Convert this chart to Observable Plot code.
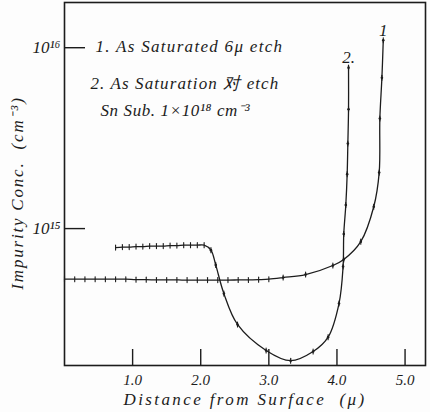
<!DOCTYPE html>
<html>
<head>
<meta charset="utf-8">
<script src="https://cdn.jsdelivr.net/npm/d3@7"></script>
<script src="https://cdn.jsdelivr.net/npm/@observablehq/plot@0.6"></script>
<style>
  html, body { margin: 0; padding: 0; background: #fdfdfd; }
</style>
</head>
<body>
<div id="chart"></div>
<script>
// Curve 1: As saturated, 6 μ etch
const c1Distance = [0.0, 0.15, 0.3, 0.45, 0.6, 0.75, 0.9, 1.05, 1.2, 1.35, 1.5, 1.65, 1.8, 1.95, 2.1, 2.25, 2.4, 2.55, 2.7, 2.85, 3.0, 3.21, 3.54, 3.94, 4.10, 4.35, 4.54, 4.62, 4.63, 4.66, 4.68];
const c1Conc = [5.25e14, 5.25e14, 5.25e14, 5.25e14, 5.25e14, 5.25e14, 5.25e14, 5.22e14, 5.22e14, 5.2e14, 5.2e14, 5.2e14, 5.19e14, 5.19e14, 5.19e14, 5.19e14, 5.19e14, 5.2e14, 5.2e14, 5.22e14, 5.25e14, 5.36e14, 5.57e14, 6.25e14, 6.75e14, 8.47e14, 1.32e15, 2.04e15, 4.06e15, 6.82e15, 1.10e16];
// Curve 2: As saturation, 对 etch
const c2Distance = [0.75, 0.85, 0.95, 1.05, 1.15, 1.25, 1.35, 1.45, 1.55, 1.65, 1.75, 1.85, 1.95, 2.05, 2.15, 2.22, 2.34, 2.54, 2.96, 3.32, 3.65, 3.87, 4.03, 4.09, 4.10, 4.13, 4.15, 4.16, 4.17, 4.17];
const c2Conc = [7.85e14, 7.9e14, 7.9e14, 7.95e14, 7.95e14, 8.0e14, 8.0e14, 8.0e14, 8.05e14, 8.05e14, 8.1e14, 8.1e14, 8.1e14, 8.1e14, 7.6e14, 6.3e14, 4.37e14, 2.95e14, 2.12e14, 1.86e14, 2.09e14, 2.51e14, 3.85e14, 6.17e14, 9.33e14, 1.35e15, 2.0e15, 2.95e15, 4.57e15, 7.76e15];

const xTicks = [1, 2, 3, 4, 5];
const yTicks = [1e15, 1e16];
const sup = {"0":"⁰","1":"¹","2":"²","3":"³","4":"⁴","5":"⁵","6":"⁶","7":"⁷","8":"⁸","9":"⁹"};
const legend1 = "1. As Saturated 6μ etch";
const legend2 = "2. As Saturation 对 etch";
const legend3 = "Sn Sub. 1×10¹⁸ cm⁻³";
const xLabel = "Distance from Surface  (μ)";
const yLabel = "Impurity Conc.  (cm⁻³)";
const curveLabels = [{name: "1", x: 4.68, y: 1.1e16}, {name: "2.", x: 4.17, y: 7.76e15}];

const c1 = c1Distance.map((d, i) => ({x: d, y: c1Conc[i]}));
const c2 = c2Distance.map((d, i) => ({x: d, y: c2Conc[i]}));

const ink = "#1c1c1c";
const font = "'Liberation Serif', serif";
const tickShape = {draw(context, l) { context.moveTo(0, -l / 2); context.lineTo(0, l / 2); }};

const chart = Plot.plot({
  width: 430,
  height: 412,
  marginLeft: 64,
  marginRight: 5,
  marginTop: 2,
  marginBottom: 47,
  x: {domain: [0, 5.3]},
  y: {type: "log", domain: [10 ** 14.243, 10 ** 16.25]},
  style: {background: "#fdfdfd", fontFamily: font, color: ink, fontStyle: "italic"},
  marks: [
    Plot.frame({stroke: ink, strokeWidth: 1.6}),
    Plot.ruleX(xTicks, {insetTop: 347, stroke: ink, strokeWidth: 1.4}),
    Plot.ruleY(yTicks, {insetRight: 340, stroke: ink, strokeWidth: 1.4}),
    Plot.axisX(xTicks, {tickSize: 0, tickPadding: 9, tickFormat: d => d.toFixed(1), fontSize: 15, label: null}),
    Plot.axisY(yTicks, {tickSize: 0, tickPadding: 4, tickFormat: d => "10" + String(Math.round(Math.log10(d))).split("").map(c => sup[c]).join(""), fontSize: 17, label: null}),
    Plot.line(c1, {x: "x", y: "y", curve: "catmull-rom", stroke: ink, strokeWidth: 1.3}),
    Plot.line(c2, {x: "x", y: "y", curve: "catmull-rom", stroke: ink, strokeWidth: 1.3}),
    Plot.vector(c1, {x: "x", y: "y", length: 5, rotate: 0, anchor: "start", shape: tickShape, stroke: ink, strokeWidth: 1.1}),
    Plot.vector(c2, {x: "x", y: "y", length: 5, rotate: 0, anchor: "start", shape: tickShape, stroke: ink, strokeWidth: 1.1}),
    Plot.dot(c1.filter(d => d.x > 3), {x: "x", y: "y", r: 1.3, fill: ink}),
    Plot.dot(c2.filter(d => d.x > 2.1), {x: "x", y: "y", r: 1.3, fill: ink}),
    Plot.text(curveLabels, {x: "x", y: "y", text: "name", dy: -10, fontSize: 17, fill: ink}),
    Plot.text([legend1], {frameAnchor: "top-left", dx: 31, dy: 37, textAnchor: "start", fontSize: 17, fill: ink}),
    Plot.text([legend2], {frameAnchor: "top-left", dx: 26, dy: 74, textAnchor: "start", fontSize: 17, fill: ink}),
    Plot.text([legend3], {frameAnchor: "top-left", dx: 36, dy: 101, textAnchor: "start", fontSize: 17, fill: ink}),
    Plot.text([xLabel], {frameAnchor: "bottom", dy: 39, textAnchor: "middle", fontSize: 17, fill: ink}),
    Plot.text([yLabel], {frameAnchor: "left", dx: -47, dy: 9, rotate: -90, textAnchor: "middle", fontSize: 17, fill: ink})
  ]
});
const spacing = new Map([[legend1, "1.3px"], [legend2, "1.1px"], [legend3, "0.6px"], [xLabel, "2.4px"], [yLabel, "1.8px"]]);
d3.select(chart).selectAll("text").each(function() {
  const s = spacing.get(this.textContent);
  if (s) this.style.letterSpacing = s;
});
document.getElementById("chart").appendChild(chart);
</script>
</body>
</html>
